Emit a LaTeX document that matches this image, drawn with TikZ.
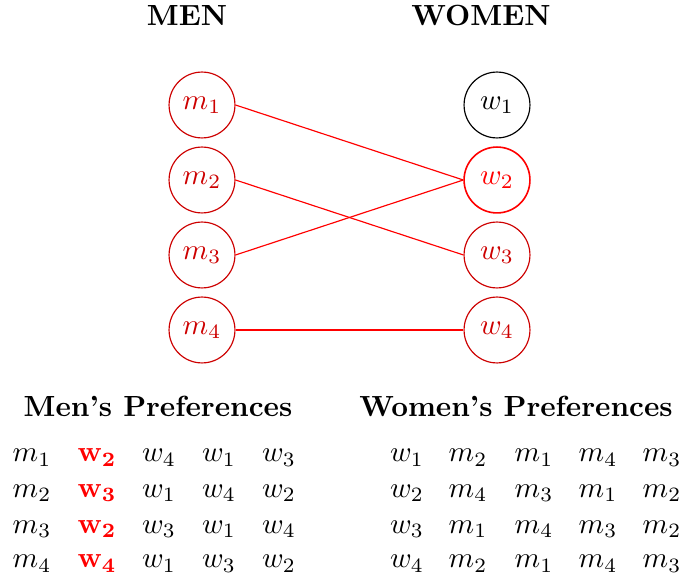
\documentclass[tikz,border=0pt]{standalone}
\usepackage{amsmath}
\definecolor{matchred}{RGB}{205,0,0}
\begin{document}
\begin{tikzpicture}[x=0.343pt,y=-0.343pt,
  person/.style={circle,draw=matchred,text=matchred,minimum size=22.6pt,inner sep=0pt},
  chosen/.style={person,draw=red,text=red,line width=0.55pt},
  free/.style={circle,draw=black,minimum size=22.6pt,inner sep=0pt},
  title/.style={anchor=base,font=\bfseries},
  entry/.style={anchor=base},
  match/.style={red,line width=0.4pt}]
\useasboundingbox (0,0) rectangle (686,577);

% column titles
\node[title] (menT) at (187,26) {MEN};
\node[title] (womenT) at (481,26) {WOMEN};

% men
\node[person] (m1) at (202,105) {$m_1$};
\node[person] (m2) at (202,180) {$m_2$};
\node[person] (m3) at (202,255) {$m_3$};
\node[person] (m4) at (202,330) {$m_4$};

% women
\node[free]   (w1) at (497,105) {$w_1$};
\node[chosen] (w2) at (497,180) {$w_2$};
\node[person] (w3) at (497,255) {$w_3$};
\node[person] (w4) at (497,330) {$w_4$};

% stable matching
\draw[match] (m1.east) -- (w2.west);
\draw[match] (m2.east) -- (w3.west);
\draw[match] (m3.east) -- (w2.west);
\draw[match] (m4.east) -- (w4.west);

% preference lists
\node[title] (menP) at (158,417) {Men's Preferences};
\node[title] (womenP) at (516,417) {Women's Preferences};

\foreach \r/\y/\a/\b/\c/\d/\e in {1/462/1/2/4/1/3, 2/497.5/2/3/1/4/2, 3/533/3/2/3/1/4, 4/568/4/4/1/3/2}{
  \node[entry] (mp\r a) at (32,\y)  {$m_{\a}$};
  \node[entry,text=red] (mp\r b) at (97,\y) {$\mathbf{w}_{\mathbf{\b}}$};
  \node[entry] (mp\r c) at (159,\y) {$w_{\c}$};
  \node[entry] (mp\r d) at (219,\y) {$w_{\d}$};
  \node[entry] (mp\r e) at (279,\y) {$w_{\e}$};
}
\foreach \r/\y/\a/\b/\c/\d/\e in {1/462/1/2/1/4/3, 2/497.5/2/4/3/1/2, 3/533/3/1/4/3/2, 4/568/4/2/1/4/3}{
  \node[entry] (wp\r a) at (407,\y) {$w_{\a}$};
  \node[entry] (wp\r b) at (468,\y) {$m_{\b}$};
  \node[entry] (wp\r c) at (534,\y) {$m_{\c}$};
  \node[entry] (wp\r d) at (598,\y) {$m_{\d}$};
  \node[entry] (wp\r e) at (662,\y) {$m_{\e}$};
}
\end{tikzpicture}
\end{document}
